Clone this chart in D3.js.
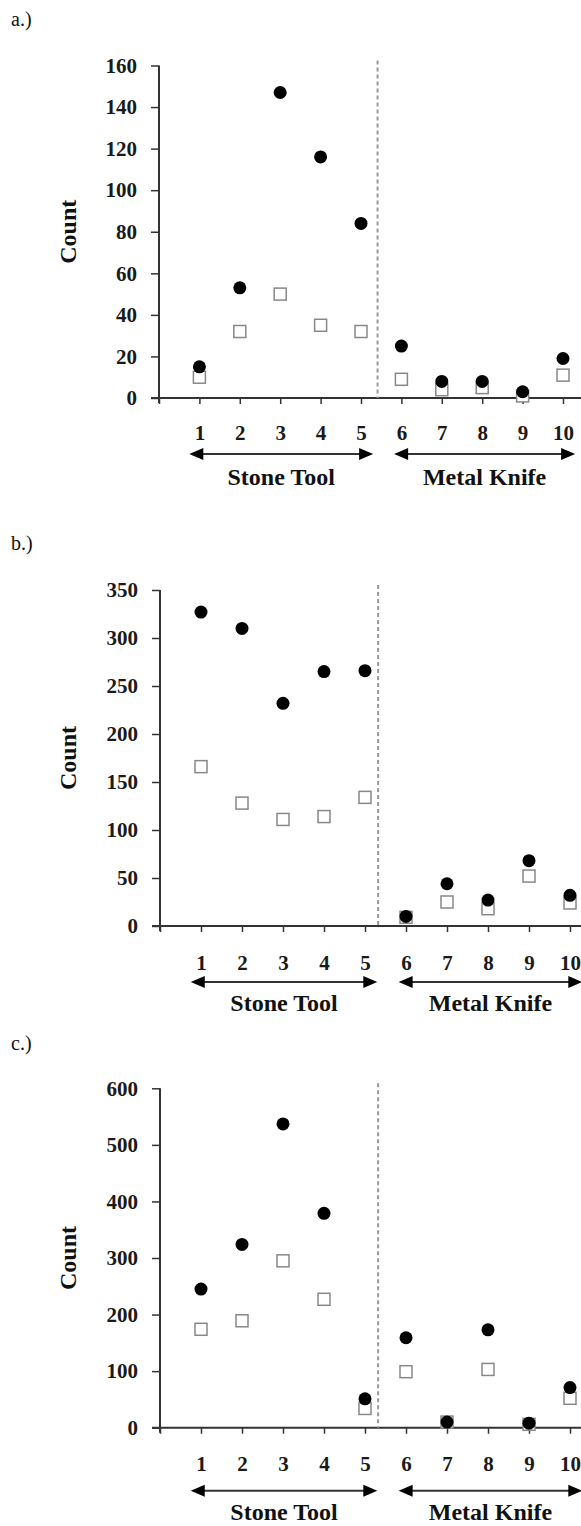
<!DOCTYPE html>
<html>
<head>
<meta charset="utf-8">
<script src="https://cdn.jsdelivr.net/npm/d3@7"></script>
<style>
  body { margin: 0; background: #fff; }
  svg text { font-family: "Liberation Serif", "DejaVu Serif", serif; }
</style>
</head>
<body>
<div id="chart"></div>
<script>
// categories on the x axis
var categories = [1, 2, 3, 4, 5, 6, 7, 8, 9, 10];

// panel a
var aCircles = [15, 53, 147, 116, 84, 25, 8, 8, 3, 19];
var aSquares = [10, 32, 50, 35, 32, 9, 4, 5, 1, 11];
var aTicks = [0, 20, 40, 60, 80, 100, 120, 140, 160];

// panel b
var bCircles = [327, 310, 232, 265, 266, 10, 44, 27, 68, 32];
var bSquares = [166, 128, 111, 114, 134, 9, 25, 18, 52, 24];
var bTicks = [0, 50, 100, 150, 200, 250, 300, 350];

// panel c
var cCircles = [245, 324, 537, 379, 51, 159, 10, 173, 8, 71];
var cSquares = [174, 189, 295, 227, 34, 99, 10, 103, 6, 52];
var cTicks = [0, 100, 200, 300, 400, 500, 600];

var groupLabels = ["Stone Tool", "Metal Knife"];

var svgWidth = 581;
var svgHeight = 1526;

var svg = d3.select("#chart")
  .append("svg")
  .attr("width", svgWidth)
  .attr("height", svgHeight);

// layout of each panel
var panels = [
  { name: "a.)", nameY: 19, top: 65.5, bottom: 398, x0: 159, step: 40.4,
    circles: aCircles, squares: aSquares, ticks: aTicks, divider: 5.41,
    labelOff: 35, arrowOff: 56, textOff: 79 },
  { name: "b.)", nameY: 543, top: 590, bottom: 926, x0: 160, step: 41,
    circles: bCircles, squares: bSquares, ticks: bTicks, divider: 5.32,
    labelOff: 37, arrowOff: 56, textOff: 77 },
  { name: "c.)", nameY: 1043, top: 1088.3, bottom: 1427.7, x0: 160, step: 41,
    circles: cCircles, squares: cSquares, ticks: cTicks, divider: 5.32,
    labelOff: 35.5, arrowOff: 63, textOff: 84 }
];

var axisColor = "#333";

panels.forEach(function(p) {
  var g = svg.append("g");
  var yMax = d3.max(p.ticks);

  var x = d3.scaleLinear()
    .domain([0, 10])
    .range([p.x0, p.x0 + 10 * p.step]);

  var y = d3.scaleLinear()
    .domain([0, yMax])
    .range([p.bottom, p.top]);

  // panel letter
  g.append("text")
    .attr("x", 11)
    .attr("y", p.nameY)
    .attr("dy", "0.35em")
    .style("font-size", "20px")
    .style("fill", "#111")
    .text(p.name);

  // y axis
  var leftAxis = d3.axisLeft(y)
    .tickValues(p.ticks)
    .tickSize(8)
    .tickPadding(14);

  var yAxisG = g.append("g")
    .attr("transform", `translate(${x(0)}, 0)`)
    .call(leftAxis);
  yAxisG.select(".domain").remove();
  yAxisG.selectAll("line").attr("stroke", axisColor).attr("stroke-width", 1.5);
  yAxisG.selectAll("text")
    .style("font-size", "21px")
    .style("font-weight", "bold")
    .style("font-family", "'Liberation Serif', serif")
    .attr("fill", "#1a1a1a");

  // x axis
  var bottomAxis = d3.axisBottom(x)
    .tickValues(d3.range(0, 11))
    .tickSize(6)
    .tickFormat(d => d === 0 ? "" : d);

  var xAxisG = g.append("g")
    .attr("transform", `translate(0, ${y(0)})`)
    .call(bottomAxis);
  xAxisG.select(".domain").remove();
  xAxisG.selectAll("line").attr("stroke", axisColor).attr("stroke-width", 1.5);
  xAxisG.selectAll("text")
    .attr("y", p.labelOff)
    .attr("dy", "0.35em")
    .style("font-size", "21px")
    .style("font-weight", "bold")
    .style("font-family", "'Liberation Serif', serif")
    .attr("fill", "#1a1a1a");

  // axis lines
  g.append("line")
    .attr("x1", x(0)).attr("x2", x(0))
    .attr("y1", y(yMax)).attr("y2", y(0) + 5)
    .attr("stroke", axisColor).attr("stroke-width", 2);
  g.append("line")
    .attr("x1", x(0) - 8).attr("x2", svgWidth)
    .attr("y1", y(0)).attr("y2", y(0))
    .attr("stroke", axisColor).attr("stroke-width", 2);

  // dashed divider
  g.append("line")
    .attr("x1", x(p.divider)).attr("x2", x(p.divider))
    .attr("y1", y(yMax) - 5).attr("y2", y(0))
    .attr("stroke", "#999")
    .attr("stroke-width", 2)
    .attr("stroke-dasharray", "4,3");

  // open squares
  var s = 12;
  g.selectAll("rect.sq")
    .data(p.squares)
    .enter()
    .append("rect")
    .attr("class", "sq")
    .attr("x", (d, i) => x(categories[i]) - s / 2)
    .attr("y", d => y(d) - s / 2)
    .attr("width", s)
    .attr("height", s)
    .attr("fill", "white")
    .attr("stroke", "#888")
    .attr("stroke-width", 1.5);

  // filled circles
  g.selectAll("circle.dot")
    .data(p.circles)
    .enter()
    .append("circle")
    .attr("class", "dot")
    .attr("cx", (d, i) => x(categories[i]))
    .attr("cy", d => y(d))
    .attr("r", 6.5)
    .attr("fill", "#000");

  // double arrows and group labels
  var spans = [[0.75, 5.3], [5.82, 10.3]];
  var ay = y(0) + p.arrowOff;
  var head = 14, half = 6;
  spans.forEach(function(sp, k) {
    var xl = x(sp[0]), xr = x(sp[1]);
    g.append("line")
      .attr("x1", xl + head - 2).attr("x2", xr - head + 2)
      .attr("y1", ay).attr("y2", ay)
      .attr("stroke", axisColor).attr("stroke-width", 2);
    g.append("path")
      .attr("d", `M${xl},${ay} L${xl + head},${ay - half} L${xl + head},${ay + half} Z`)
      .attr("fill", "#000");
    g.append("path")
      .attr("d", `M${xr},${ay} L${xr - head},${ay - half} L${xr - head},${ay + half} Z`)
      .attr("fill", "#000");
    g.append("text")
      .attr("x", (xl + xr) / 2)
      .attr("y", y(0) + p.textOff)
      .attr("dy", "0.35em")
      .style("text-anchor", "middle")
      .style("font-size", "24px")
      .style("font-weight", "bold")
      .attr("fill", "#111")
      .text(groupLabels[k]);
  });

  // y axis title
  g.append("text")
    .attr("transform", `translate(68, ${(y(0) + y(yMax)) / 2}) rotate(-90)`)
    .attr("dy", "0.35em")
    .style("text-anchor", "middle")
    .style("font-size", "24px")
    .style("font-weight", "bold")
    .attr("fill", "#111")
    .text("Count");
});
</script>
</body>
</html>
